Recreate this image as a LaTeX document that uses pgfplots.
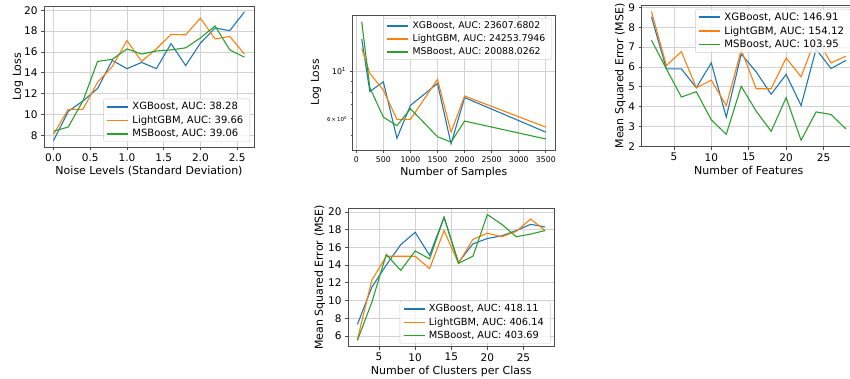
\documentclass[border=0pt]{standalone}
\usepackage{fontspec}
\setmainfont{DejaVu Sans}
\usepackage{pgfplots}
\usepackage{pgfplotstable}
\pgfplotsset{compat=1.18}
\definecolor{tabblue}{HTML}{1F77B4}
\definecolor{taborange}{HTML}{FF7F0E}
\definecolor{tabgreen}{HTML}{2CA02C}

\pgfplotstableread{
x xgb lgb msb
0.0 7.5 8.1 8.4
0.2 10.3 10.5 8.8
0.4 11.3 10.5 11.3
0.6 12.5 13.1 15.1
0.8 15.2 14.6 15.3
1.0 14.4 17.1 16.3
1.2 15.0 15.1 15.8
1.4 14.4 16.3 16.1
1.6 16.8 17.7 16.2
1.8 14.7 17.65 16.4
2.0 16.85 19.25 17.35
2.2 18.3 17.25 18.5
2.4 18.05 17.5 16.2
2.6 19.85 15.8 15.5
}\noisedata

\pgfplotstableread{
x xgb lgb msb
100 14.2 12.8 17.1
250 8.05 9.8 8.4
500 8.93 8.17 6.1
750 4.86 5.96 5.57
1000 6.93 5.96 6.68
1500 8.78 9.17 4.94
1750 4.57 5.19 4.66
2000 7.54 7.67 5.85
3500 5.19 5.48 4.82
}\sampledata

\pgfplotstableread{
x xgb lgb msb
2 8.53 8.8 7.35
4 5.9 6.07 5.9
6 5.9 6.77 4.48
8 4.95 4.95 4.75
10 6.2 5.33 3.33
12 3.47 4.05 2.6
14 6.65 6.86 5.02
16 5.75 4.9 3.77
18 4.62 4.9 2.75
20 5.62 6.45 4.45
22 4.05 5.5 2.3
24 6.9 7.5 3.73
26 5.92 6.2 3.6
28 6.33 6.55 2.87
}\featdata

\pgfplotstableread{
x xgb lgb msb
2 7.3 5.6 5.5
4 11.5 12.3 9.8
6 14.0 15.0 15.2
8 16.3 15.0 13.4
10 17.7 15.0 15.6
12 15.1 13.6 14.7
14 19.4 17.9 19.4
16 14.3 14.2 14.2
18 16.4 16.9 15.0
20 17.0 17.6 19.7
22 17.3 17.2 18.6
24 17.9 17.8 17.2
26 18.6 19.2 17.5
28 18.3 17.9 17.9
}\clusterdata

\pgfplotsset{
  mpl/.style={
    scale only axis,
    grid=major,
    major grid style={black!18, line width=0.7pt},
    axis line style={black!70, line width=0.7pt},
    tick align=outside, tick pos=left,
    major tick length=3pt,
    tick style={black!70, line width=0.7pt},
    /pgf/number format/assume math mode=true,
    every axis plot/.append style={line width=1.1pt, mark=none},
    legend cell align=left,
    legend image code/.code={\draw[##1, line width=1.5pt] (0pt,0pt) -- (21pt,0pt);},
    legend style={draw=black!20, rounded corners=2pt, fill=white, fill opacity=0.8, text opacity=1,
      inner xsep=3pt, inner ysep=2.5pt, row sep=2.5pt,
      nodes={inner xsep=3.5pt, inner ysep=1pt}},
    label style={font=\fontsize{11}{13}\selectfont},
    tick label style={font=\fontsize{10.5}{12}\selectfont},
    ylabel shift=-4pt, xlabel shift=-2pt,
  }
}

\begin{document}
\begin{tikzpicture}[x=1pt,y=1pt]
\useasboundingbox (0pt,0pt) rectangle (850pt,379pt);
\clip (0pt,0pt) rectangle (850pt,379pt);

% Plot 1
\begin{axis}[mpl, at={(44pt,232pt)}, anchor=south west, width=210pt, height=141pt,
  xmin=-0.13, xmax=2.73, ymin=6.885, ymax=20.415,
  xtick={0,0.5,1,1.5,2,2.5}, xticklabels={0.0,0.5,1.0,1.5,2.0,2.5},
  ytick={8,10,12,14,16,18,20},
  ylabel shift=-6pt,
  xlabel={Noise Levels (Standard Deviation)}, ylabel={Log Loss},
  legend style={at={(1,0)}, anchor=south east, xshift=-4pt, yshift=5pt, font=\fontsize{10}{12}\selectfont}]
\addplot[tabblue] table[x=x,y=xgb]{\noisedata};
\addlegendentry{XGBoost, AUC: 38.28}
\addplot[taborange] table[x=x,y=lgb]{\noisedata};
\addlegendentry{LightGBM, AUC: 39.66}
\addplot[tabgreen] table[x=x,y=msb]{\noisedata};
\addlegendentry{MSBoost, AUC: 39.06}
\end{axis}

% Plot 2
\begin{axis}[mpl, at={(352.5pt,229pt)}, anchor=south west, width=202.5pt, height=135pt,
  ymode=log, xmin=-70, xmax=3670, ymin=4.28, ymax=18.4,
  xtick={0,500,...,3500},
  ytick={10}, yticklabels={10\textsuperscript{1}},
  minor ytick={5,7,8,9}, minor tick length=2pt,
  extra y ticks={6}, extra y tick labels={6\,×\,10\textsuperscript{0}},
  extra y tick style={grid=none, major tick length=2pt, tick label style={font=\fontsize{5.5}{6}\selectfont}},
  tick label style={font=\fontsize{7.8}{9}\selectfont},
  label style={font=\fontsize{10.8}{13}\selectfont},
  scaled x ticks=false,
  xticklabel style={/pgf/number format/.cd, fixed, 1000 sep={}},
  xlabel={Number of Samples}, ylabel={Log Loss},
  legend style={at={(1,1)}, anchor=north east, xshift=-3pt, yshift=-3pt, font=\fontsize{9.3}{11}\selectfont}]
\addplot[tabblue] table[x=x,y=xgb]{\sampledata};
\addlegendentry{XGBoost, AUC: 23607.6802}
\addplot[taborange] table[x=x,y=lgb]{\sampledata};
\addlegendentry{LightGBM, AUC: 24253.7946}
\addplot[tabgreen] table[x=x,y=msb]{\sampledata};
\addlegendentry{MSBoost, AUC: 20088.0262}
\end{axis}

% Plot 3
\begin{axis}[mpl, at={(641.7pt,232.3pt)}, anchor=south west, width=214pt, height=141.7pt,
  xmin=0.7, xmax=29.3, ymin=1.975, ymax=9.125,
  xtick={5,10,15,20,25}, ytick={2,3,4,5,6,7,8,9},
  xlabel={Number of Features}, ylabel={Mean Squared Error (MSE)},
  legend style={at={(1,1)}, anchor=north east, xshift=-5pt, yshift=-4pt, font=\fontsize{10.2}{12}\selectfont}]
\addplot[tabblue] table[x=x,y=xgb]{\featdata};
\addlegendentry{XGBoost, AUC: 146.91}
\addplot[taborange] table[x=x,y=lgb]{\featdata};
\addlegendentry{LightGBM, AUC: 154.12}
\addplot[tabgreen] table[x=x,y=msb]{\featdata};
\addlegendentry{MSBoost, AUC: 103.95}
\end{axis}

% Plot 4
\begin{axis}[mpl, at={(348pt,32.3pt)}, anchor=south west, width=206.5pt, height=138.4pt,
  xmin=0.7, xmax=29.3, ymin=4.79, ymax=20.41,
  xtick={5,10,15,20,25}, ytick={6,8,10,12,14,16,18,20},
  xlabel={Number of Clusters per Class}, ylabel={Mean Squared Error (MSE)},
  legend style={at={(1,0)}, anchor=south east, xshift=-4pt, yshift=3pt, font=\fontsize{9.8}{12}\selectfont}]
\addplot[tabblue] table[x=x,y=xgb]{\clusterdata};
\addlegendentry{XGBoost, AUC: 418.11}
\addplot[taborange] table[x=x,y=lgb]{\clusterdata};
\addlegendentry{LightGBM, AUC: 406.14}
\addplot[tabgreen] table[x=x,y=msb]{\clusterdata};
\addlegendentry{MSBoost, AUC: 403.69}
\end{axis}
\end{tikzpicture}
\end{document}
